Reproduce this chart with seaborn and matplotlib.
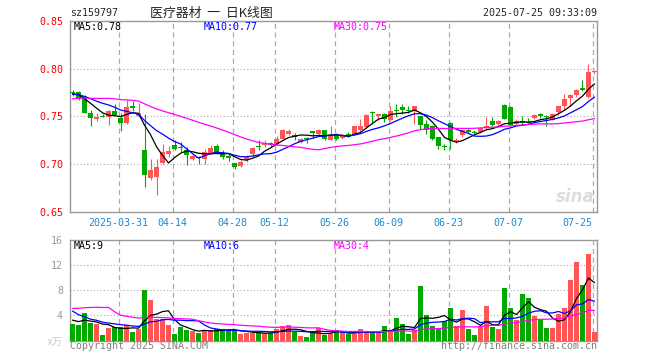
import numpy as np
import pandas as pd
import matplotlib
matplotlib.use("Agg")
import matplotlib.pyplot as plt
import seaborn as sns

sns.set_style("white")
plt.rcParams['font.family'] = ['DejaVu Sans Mono', 'Noto Sans CJK SC']

# ---- daily K-line data, 2025-03-19 .. 2025-07-25 ----
open_ = [0.775, 0.775, 0.771, 0.754, 0.747, 0.7505, 0.749, 0.756, 0.748, 0.743,
         0.761, 0.750, 0.7146, 0.686, 0.687, 0.701, 0.7104, 0.720, 0.718, 0.7153,
         0.7052, 0.7076, 0.7059, 0.7118, 0.7188, 0.7111, 0.7083, 0.7017, 0.6983, 0.7042,
         0.7104, 0.7195, 0.7205, 0.7222, 0.7215, 0.7267, 0.732, 0.7306, 0.7233, 0.7278,
         0.7344, 0.7319, 0.7354, 0.7257, 0.7319, 0.7278, 0.7319, 0.7313, 0.7354, 0.7389,
         0.7545, 0.750, 0.752, 0.7458, 0.7569, 0.7597, 0.7569, 0.7556, 0.750, 0.7424,
         0.7396, 0.7285, 0.7184, 0.7431, 0.7247, 0.7302, 0.7361, 0.7337, 0.7337, 0.7382,
         0.7448, 0.7424, 0.7622, 0.7597, 0.7424, 0.745, 0.7445, 0.7483, 0.7528, 0.7507,
         0.7465, 0.7545, 0.7604, 0.7691, 0.7726, 0.7795, 0.7701, 0.7962]
high = [0.778, 0.776, 0.772, 0.757, 0.753, 0.7528, 0.757, 0.763, 0.753, 0.767,
        0.766, 0.764, 0.7528, 0.705, 0.705, 0.721, 0.7188, 0.725, 0.723, 0.718,
        0.7094, 0.7083, 0.7163, 0.7198, 0.721, 0.7153, 0.7104, 0.7017, 0.7042, 0.7094,
        0.718, 0.7257, 0.725, 0.7233, 0.7292, 0.7372, 0.7372, 0.7327, 0.7278, 0.7285,
        0.7344, 0.7372, 0.7354, 0.7396, 0.7326, 0.7313, 0.7337, 0.7396, 0.7476, 0.7521,
        0.7552, 0.752, 0.7535, 0.7604, 0.7625, 0.7625, 0.7611, 0.7604, 0.750, 0.7465,
        0.7406, 0.7285, 0.7215, 0.7441, 0.7274, 0.736, 0.7382, 0.7354, 0.7389, 0.7493,
        0.7493, 0.7465, 0.7632, 0.7608, 0.7476, 0.750, 0.7483, 0.7528, 0.7538, 0.7514,
        0.7538, 0.7611, 0.7736, 0.7736, 0.7788, 0.7875, 0.8049, 0.7979]
low = [0.771, 0.767, 0.753, 0.740, 0.745, 0.7493, 0.741, 0.751, 0.735, 0.742,
       0.756, 0.749, 0.6764, 0.683, 0.668, 0.7007, 0.7076, 0.7146, 0.713, 0.699,
       0.7042, 0.7007, 0.7007, 0.7104, 0.7104, 0.705, 0.7031, 0.6951, 0.6972, 0.7024,
       0.7076, 0.7146, 0.718, 0.718, 0.7198, 0.726, 0.730, 0.725, 0.7222, 0.7222,
       0.7274, 0.7309, 0.7257, 0.725, 0.725, 0.7267, 0.7285, 0.7302, 0.7337, 0.7382,
       0.7424, 0.7458, 0.744, 0.7451, 0.7493, 0.7528, 0.7535, 0.7424, 0.7372, 0.732,
       0.725, 0.7163, 0.7146, 0.7163, 0.7222, 0.7285, 0.733, 0.7313, 0.7326, 0.737,
       0.7396, 0.7396, 0.7469, 0.7399, 0.7406, 0.7413, 0.7427, 0.7469, 0.7483, 0.7399,
       0.7458, 0.7517, 0.7563, 0.7604, 0.7701, 0.7767, 0.7691, 0.7944]
close = [0.774, 0.768, 0.754, 0.748, 0.749, 0.7495, 0.756, 0.751, 0.743, 0.760,
         0.759, 0.753, 0.6885, 0.694, 0.697, 0.713, 0.714, 0.716, 0.717, 0.7094,
         0.7087, 0.706, 0.7128, 0.717, 0.7118, 0.707, 0.7066, 0.6972, 0.7024, 0.7076,
         0.7173, 0.718, 0.7222, 0.7198, 0.7267, 0.7361, 0.7344, 0.7285, 0.7267, 0.726,
         0.7326, 0.7361, 0.7267, 0.7309, 0.7267, 0.7302, 0.7295, 0.7396, 0.7396, 0.751,
         0.7535, 0.752, 0.7476, 0.7556, 0.7552, 0.7569, 0.7552, 0.7604, 0.7406, 0.7361,
         0.7267, 0.7188, 0.7177, 0.7257, 0.7257, 0.7354, 0.7337, 0.733, 0.7382, 0.7396,
         0.7413, 0.7448, 0.7476, 0.7406, 0.7448, 0.7434, 0.7434, 0.751, 0.750, 0.7497,
         0.7528, 0.7604, 0.7684, 0.7726, 0.7771, 0.7771, 0.7962, 0.7972]
volume = [2.6, 2.45, 4.4, 2.8, 2.6, 0.85, 2.0, 2.2, 2.1, 2.45,
          1.33, 1.8, 8.05, 6.45, 3.4, 3.4, 2.45, 1.0, 2.13, 1.65,
          1.5, 1.17, 1.65, 1.65, 1.8, 1.8, 1.65, 1.65, 1.0, 1.17,
          1.17, 1.33, 1.17, 1.17, 1.8, 2.3, 2.45, 1.33, 0.7, 0.53,
          1.33, 2.0, 0.85, 1.2, 1.65, 1.33, 1.1, 1.1, 1.8, 1.33,
          1.17, 1.33, 2.3, 1.5, 3.57, 2.6, 1.0, 1.65, 8.7, 4.05,
          2.3, 1.8, 3.1, 5.17, 2.3, 4.85, 1.8, 0.85, 2.3, 5.5,
          2.13, 1.8, 8.4, 5.17, 3.25, 7.4, 6.8, 3.9, 3.25, 2.0,
          2.0, 4.2, 5.17, 9.65, 12.5, 8.85, 13.8, 1.33]

# sessions before the visible window, only used to warm up the moving averages
prior_close = [0.752, 0.750, 0.754, 0.753, 0.751, 0.752, 0.765, 0.768, 0.770, 0.772,
               0.775, 0.778, 0.776, 0.774, 0.773, 0.771, 0.772, 0.774, 0.770, 0.772,
               0.771, 0.773, 0.772, 0.774, 0.772, 0.773, 0.775, 0.772, 0.774]
prior_vol = [1.6, 1.9, 1.5, 1.8, 1.7, 1.8, 22.5, 19.3, 7.2, 6.1,
             5.6, 5.2, 5.0, 4.6, 4.3, 4.2, 4.0, 2.9, 2.6, 2.8,
             8.2, 7.6, 6.85, 4.3, 3.8, 3.6, 3.3, 3.5, 3.25]

tick_pos = [8, 17, 27, 34, 44, 53, 63, 73, 87]
tick_lab = ['2025-03-31', '04-14', '04-28', '05-12', '05-26',
            '06-09', '06-23', '07-07', '07-25']

RED = '#ff5555'
GREEN = '#00a800'
GRID = '#aaaaaa'
MA_COLS = {5: 'black', 10: '#0000ff', 30: '#ff00ff'}

o = np.array(open_)
c = np.array(close)
x = np.arange(len(c))
cols = np.where(c >= o, RED, GREEN)

W, H = 660, 360
fig = plt.figure(figsize=(6.6, 3.6), dpi=100)
ax1 = fig.add_axes([70 / W, 1 - 212 / H, 527 / W, (212 - 20.7) / H])
ax2 = fig.add_axes([70 / W, 1 - 340.5 / H, 527 / W, (340.5 - 240.3) / H])

# --- price panel ---
ax1.vlines(x, low, high, colors=cols, lw=0.8, zorder=3)
body = np.maximum(np.abs(c - o), 0.0009)
ax1.bar(x, body, bottom=np.minimum(o, c), width=0.72, color=cols, lw=0, zorder=3)

full_c = pd.Series(prior_close + close)
for n, col in MA_COLS.items():
    ma = full_c.rolling(n).mean().iloc[len(prior_close):].values
    sns.lineplot(x=x, y=ma, color=col, lw=0.9, ax=ax1, zorder=4)

ax1.set_xlim(-0.42, 87.42)
ax1.set_ylim(0.65, 0.85)
ax1.set_yticks([0.65, 0.70, 0.75, 0.80, 0.85])
ax1.set_yticklabels(['%.2f' % v for v in [0.65, 0.70, 0.75, 0.80, 0.85]])
ax1.tick_params(axis='y', length=0, colors='red', labelsize=7.2, pad=5)
ax1.set_xticks([p - 0.3 for p in tick_pos])
ax1.set_xticklabels(tick_lab)
ax1.tick_params(axis='x', length=0, colors='#1a8ad4', labelsize=7.2, pad=4)
ax1.get_xticklabels()[-1].set_ha('right')
for v in [0.70, 0.75, 0.80]:
    ax1.axhline(v, color=GRID, lw=0.8, ls=(0, (1, 2)), zorder=1)

# --- volume panel ---
ax2.bar(x, volume, width=0.8, color=cols, lw=0, zorder=3)
full_v = pd.Series(prior_vol + volume)
for n, col in MA_COLS.items():
    ma = full_v.rolling(n).mean().iloc[len(prior_vol):].values
    sns.lineplot(x=x, y=ma, color=col, lw=0.9, ax=ax2, zorder=4)

ax2.set_xlim(-0.42, 87.42)
ax2.set_ylim(0, 16)
ax2.set_yticks([0, 4, 8, 12, 16])
ax2.set_yticklabels(['x万', '4', '8', '12', '16'])
ax2.tick_params(axis='y', length=0, colors='#999999', labelsize=7.2, pad=5)
ax2.get_yticklabels()[0].set_color('#c8c8c8')
ax2.set_xticks([])
for v in [4, 8, 12]:
    ax2.axhline(v, color=GRID, lw=0.8, ls=(0, (1, 2)), zorder=1)

for ax in (ax1, ax2):
    for p in tick_pos:
        ax.axvline(p - 0.3, color=GRID, lw=0.9, ls=(0, (4, 3)), zorder=1)
    for s in ax.spines.values():
        s.set_color('#999999')
        s.set_linewidth(1.0)
    ax.set_xlabel('')
    ax.set_ylabel('')

# --- texts ---
def ftext(px, py, s, size=7.2, **kw):
    fig.text(px / W, 1 - py / H, s, va='center', fontsize=size, **kw)

ftext(70, 13.3, 'sz159797')
ftext(150, 13.3, '医疗器材  一  日K线图', size=9.3, family=['Noto Sans CJK SC', 'DejaVu Sans'])
ftext(597, 13.3, '2025-07-25 09:33:09', ha='right')

ftext(74, 27, 'MA5:%.2f' % full_c.rolling(5).mean().iloc[-1], color='black')
ftext(204, 27, 'MA10:%.2f' % full_c.rolling(10).mean().iloc[-1], color='#0000ff')
ftext(334, 27, 'MA30:%.2f' % full_c.rolling(30).mean().iloc[-1], color='#ff00ff')
ftext(74, 246, 'MA5:%d' % full_v.rolling(5).mean().iloc[-1], color='black')
ftext(204, 246, 'MA10:%d' % full_v.rolling(10).mean().iloc[-1], color='#0000ff')
ftext(334, 246, 'MA30:%d' % full_v.rolling(30).mean().iloc[-1], color='#ff00ff')

ftext(70, 346, 'Copyright 2025 SINA.COM', color='#808080')
ftext(597, 346, 'http://finance.sina.com.cn', ha='right', color='#808080')
fig.text(595 / W, 1 - 197 / H, 'sina', ha='right', va='center', fontsize=12,
         fontstyle='italic', fontweight='bold', color='#dcdcdc', family='DejaVu Sans')

fig.savefig('out.png', dpi=100, facecolor='white')
